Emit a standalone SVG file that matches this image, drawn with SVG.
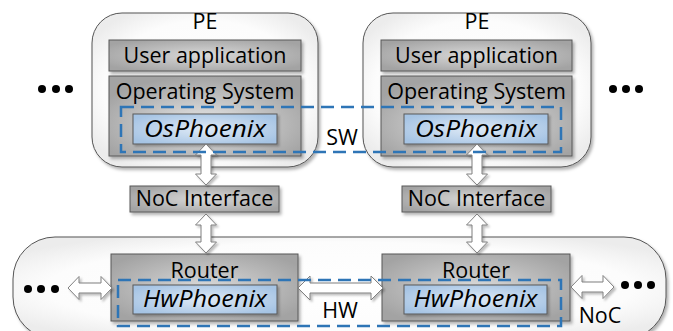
<svg xmlns="http://www.w3.org/2000/svg" width="673" height="331" viewBox="0 0 673 331">
<defs>
  <radialGradient id="gWhite" cx="50%" cy="50%" r="60%">
    <stop offset="0" stop-color="#ffffff"/>
    <stop offset="0.75" stop-color="#fcfcfc"/>
    <stop offset="1" stop-color="#ececec"/>
  </radialGradient>
  <radialGradient id="gGray" cx="50%" cy="50%" r="60%">
    <stop offset="0" stop-color="#d9d9d9"/>
    <stop offset="1" stop-color="#a3a3a3"/>
  </radialGradient>
  <radialGradient id="gOs" cx="50%" cy="60%" r="60%">
    <stop offset="0" stop-color="#e6e6e6"/>
    <stop offset="1" stop-color="#a3a3a3"/>
  </radialGradient>
  <radialGradient id="gBlue" cx="50%" cy="50%" r="60%">
    <stop offset="0" stop-color="#dfeaf6"/>
    <stop offset="1" stop-color="#a6c4e4"/>
  </radialGradient>
  <filter id="sh" x="-10%" y="-10%" width="130%" height="140%">
    <feDropShadow dx="2" dy="2.5" stdDeviation="1.5" flood-color="#000" flood-opacity="0.3"/>
  </filter>
  <filter id="shs" x="-20%" y="-20%" width="150%" height="150%">
    <feDropShadow dx="2" dy="2" stdDeviation="1.2" flood-color="#000" flood-opacity="0.25"/>
  </filter>
  <style>
    .pe { fill: url(#gWhite); stroke: #555; stroke-width: 1; filter: url(#sh); }
    .gray { fill: url(#gGray); stroke: #595959; stroke-width: 1; filter: url(#sh); }
    .os { fill: url(#gOs); stroke: #595959; stroke-width: 1; filter: url(#sh); }
    .blue { fill: url(#gBlue); stroke: #595959; stroke-width: 1; filter: url(#shs); }
    .arrow { fill: #ffffff; stroke: #7f7f7f; stroke-width: 1; filter: url(#shs); }
    .dash { fill: none; stroke: #2e75b6; stroke-width: 2.5; stroke-dasharray: 13 7; }
    .dot { fill: #000; }
    text { font-family: "Open Sans", "Liberation Sans", sans-serif; font-size: 21.5px; fill: #000; text-anchor: middle; }
    .it { font-style: italic; font-size: 23px; }
  </style>
</defs>

<g id="noc-ring">
  <rect class="pe" x="13" y="237" width="653" height="102" rx="42" ry="42"/>
</g>

<g id="pe-left">
  <rect class="pe" x="92" y="13" width="226" height="154" rx="30" ry="30"/>
  <text x="205" y="29">PE</text>
</g>
<g id="pe-right">
  <rect class="pe" x="363" y="13" width="228" height="154" rx="30" ry="30"/>
  <text x="477" y="29">PE</text>
</g>

<g id="userapp-left">
  <rect class="gray" x="109" y="40" width="192" height="31"/>
  <text x="205" y="63">User application</text>
</g>
<g id="userapp-right">
  <rect class="gray" x="381" y="40" width="191" height="31"/>
  <text x="476.5" y="63">User application</text>
</g>

<g id="os-left">
  <rect class="os" x="109" y="76" width="192" height="80"/>
  <text x="205" y="99">Operating System</text>
</g>
<g id="os-right">
  <rect class="os" x="381" y="76" width="191" height="80"/>
  <text x="476.5" y="99">Operating System</text>
</g>

<g id="osphoenix-left">
  <rect class="blue" x="133" y="114" width="144" height="30"/>
  <text class="it" x="205" y="137" textLength="122" lengthAdjust="spacingAndGlyphs">OsPhoenix</text>
</g>
<g id="osphoenix-right">
  <rect class="blue" x="404" y="114" width="144" height="30"/>
  <text class="it" x="476" y="137" textLength="122" lengthAdjust="spacingAndGlyphs">OsPhoenix</text>
</g>

<g id="nocif-left">
  <rect class="gray" x="130" y="186" width="149" height="26"/>
  <text x="204.5" y="206">NoC Interface</text>
</g>
<g id="nocif-right">
  <rect class="gray" x="402" y="186" width="149" height="26"/>
  <text x="476.5" y="206">NoC Interface</text>
</g>

<g id="router-left">
  <rect class="gray" x="111" y="254" width="187" height="67"/>
  <text x="204.5" y="278">Router</text>
</g>
<g id="router-right">
  <rect class="gray" x="382" y="254" width="188" height="67"/>
  <text x="476" y="278">Router</text>
</g>

<g id="hwphoenix-left">
  <rect class="blue" x="133" y="285" width="144" height="29"/>
  <text class="it" x="205" y="307" textLength="124" lengthAdjust="spacingAndGlyphs">HwPhoenix</text>
</g>
<g id="hwphoenix-right">
  <rect class="blue" x="404" y="285" width="143" height="29"/>
  <text class="it" x="475.5" y="307" textLength="124" lengthAdjust="spacingAndGlyphs">HwPhoenix</text>
</g>

<g id="connectors">
  <polygon class="arrow" points="206,144 216.5,155 211,155 211,174 216.5,174 206,185 195.5,174 201,174 201,155 195.5,155"/>
  <polygon class="arrow" points="206,214 216.5,225 211,225 211,242 216.5,242 206,253 195.5,242 201,242 201,225 195.5,225"/>
  <polygon class="arrow" points="477,144 487.5,155 482,155 482,174 487.5,174 477,185 466.5,174 472,174 472,155 466.5,155"/>
  <polygon class="arrow" points="477,214 487.5,225 482,225 482,242 487.5,242 477,253 466.5,242 472,242 472,225 466.5,225"/>
  <polygon class="arrow" points="298,288 310,276 310,283 371,283 371,276 383,288 371,300 371,293 310,293 310,300"/>
  <polygon class="arrow" points="68,288 79,276.5 79,283 101,283 101,276.5 112,288 101,299.5 101,293 79,293 79,299.5"/>
  <polygon class="arrow" points="571,287 582,275.5 582,282 603,282 603,275.5 614,287 603,298.5 603,292 582,292 582,298.5"/>
</g>

<g id="sw-region">
  <rect class="dash" x="121" y="107" width="440" height="45"/>
  <text x="342" y="145">SW</text>
</g>
<g id="hw-region">
  <rect class="dash" x="118" y="280" width="443" height="46"/>
  <text x="340" y="318">HW</text>
</g>
<g id="noc-label">
  <text x="600" y="323">NoC</text>
</g>

<g id="dots">
  <circle class="dot" cx="42" cy="89" r="4"/>
  <circle class="dot" cx="56" cy="89" r="4"/>
  <circle class="dot" cx="69" cy="89" r="4"/>
  <circle class="dot" cx="613" cy="89" r="4"/>
  <circle class="dot" cx="626" cy="89" r="4"/>
  <circle class="dot" cx="639" cy="89" r="4"/>
  <circle class="dot" cx="28" cy="289" r="4"/>
  <circle class="dot" cx="41" cy="289" r="4"/>
  <circle class="dot" cx="55" cy="289" r="4"/>
  <circle class="dot" cx="625" cy="285" r="4"/>
  <circle class="dot" cx="638" cy="285" r="4"/>
  <circle class="dot" cx="651" cy="285" r="4"/>
</g>
</svg>
